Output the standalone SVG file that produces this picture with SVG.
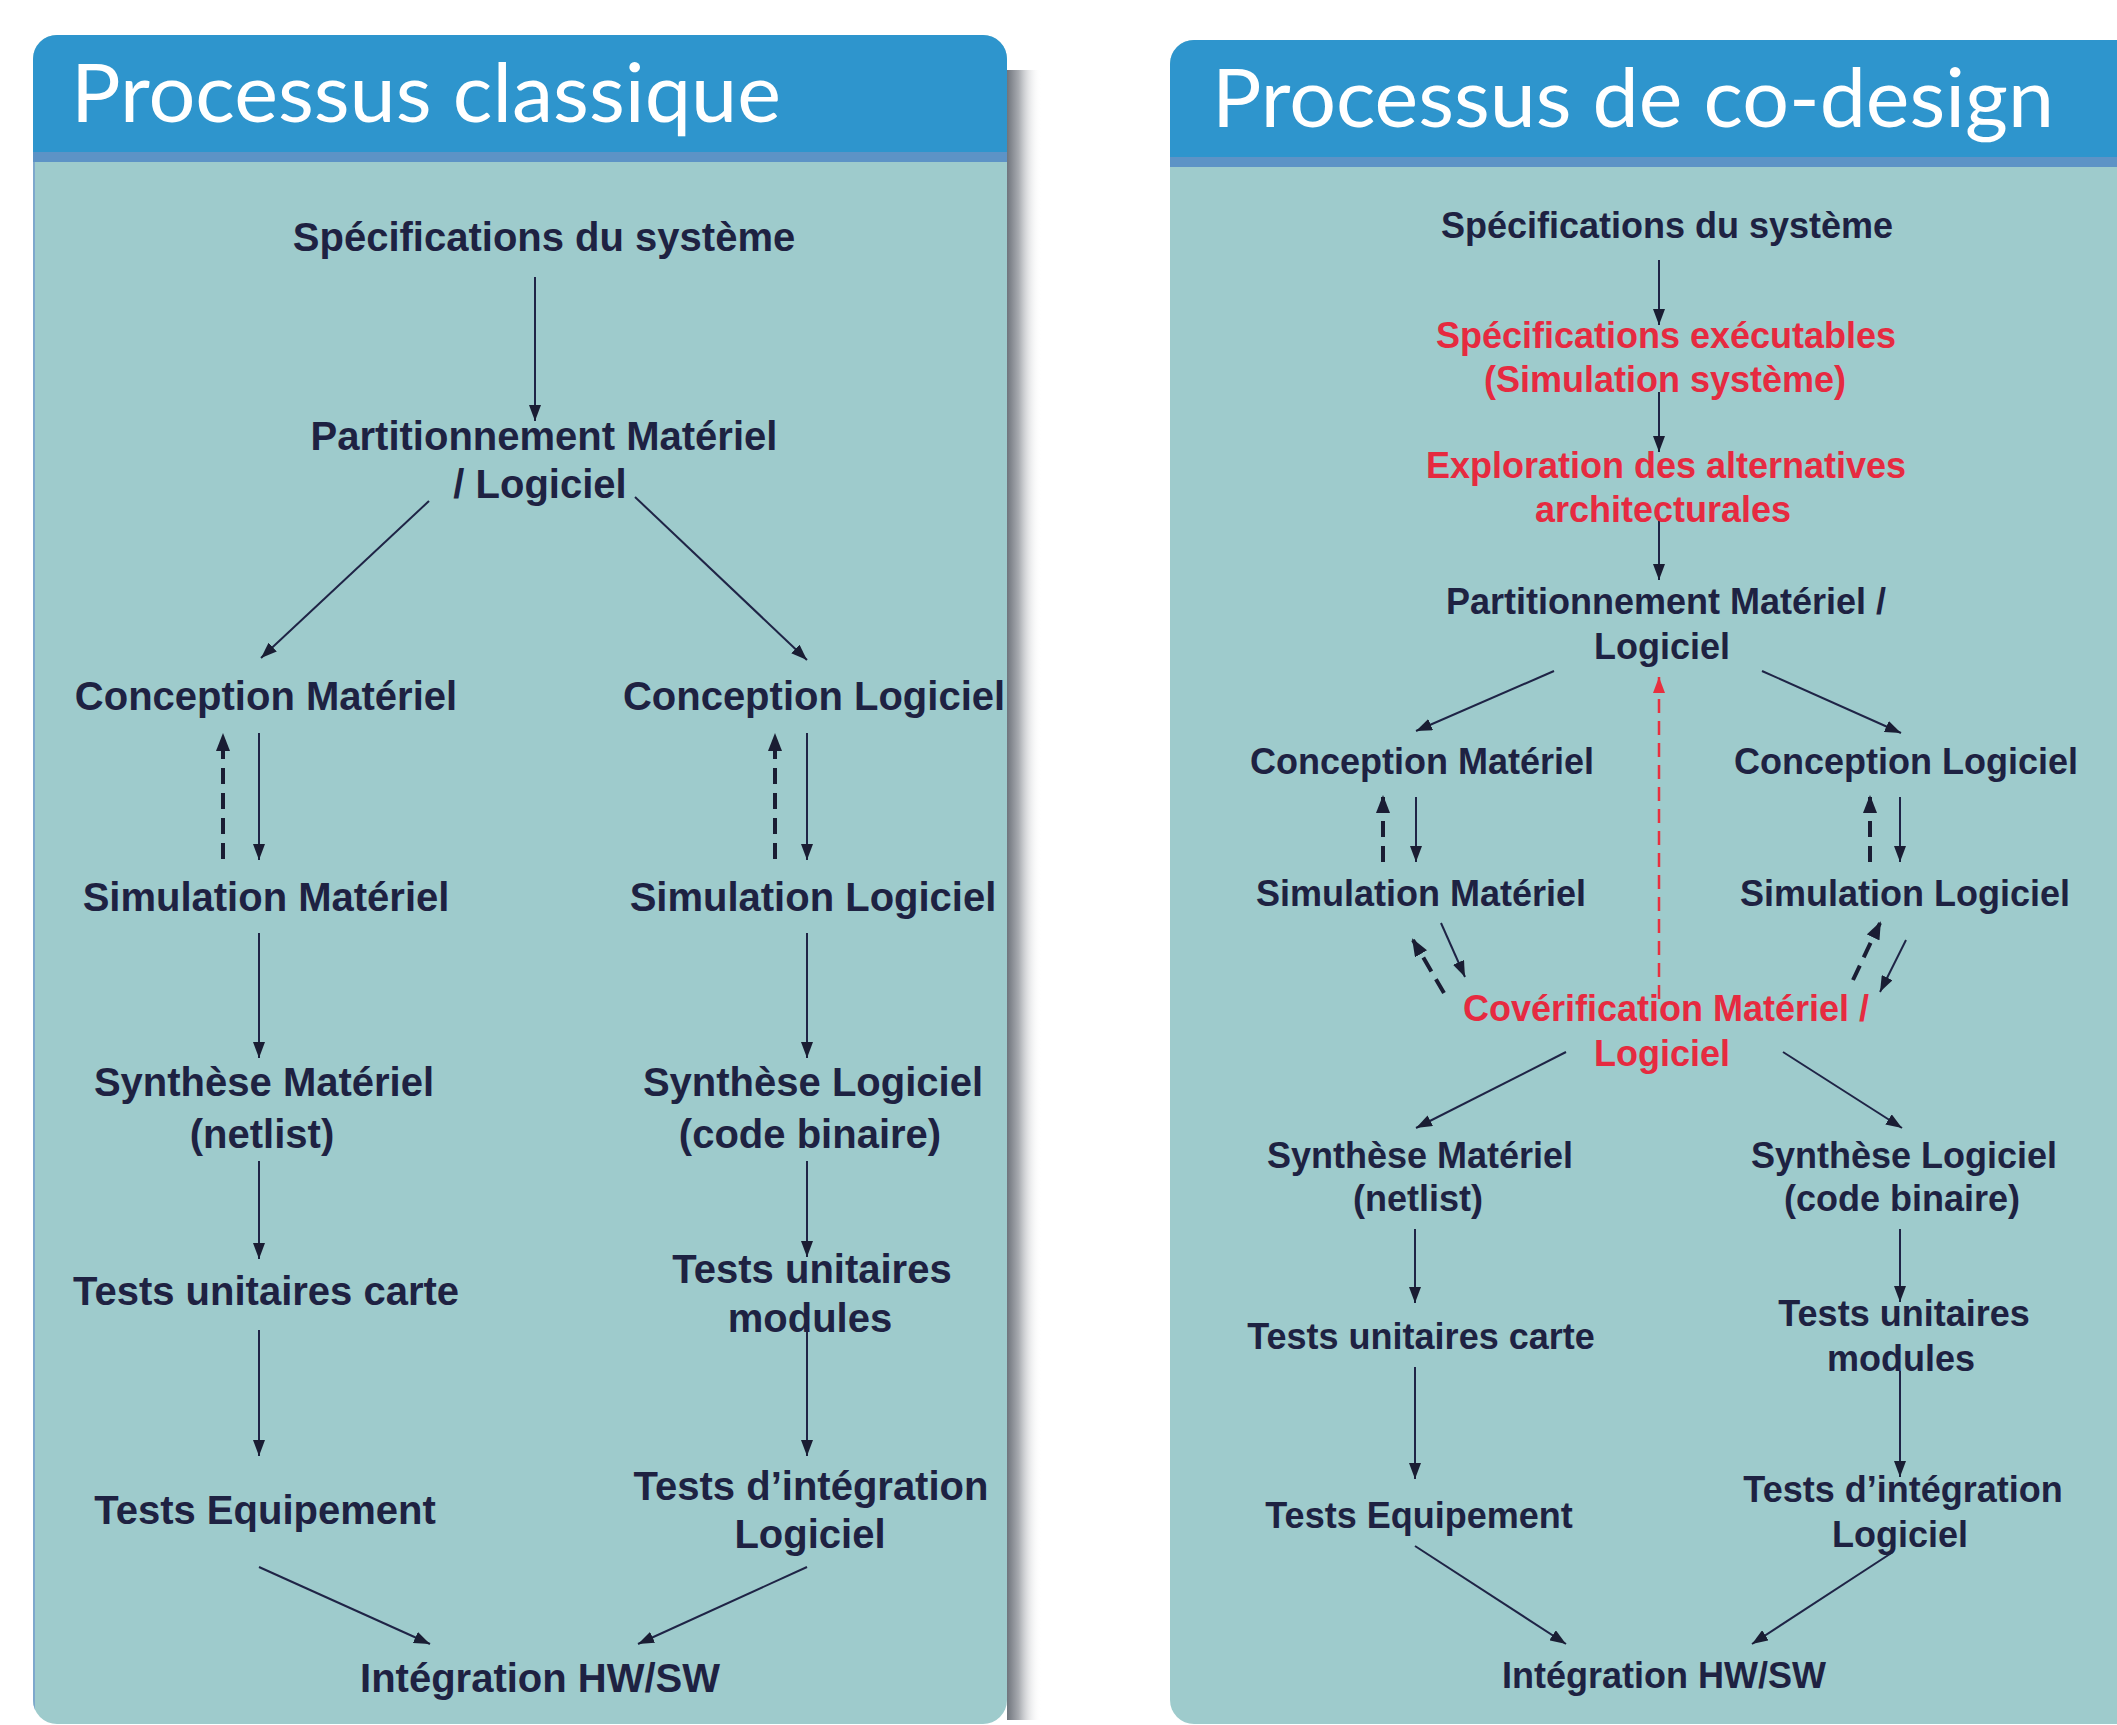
<svg xmlns="http://www.w3.org/2000/svg" width="2117" height="1725" viewBox="0 0 2117 1725">
<defs>
  <style>
    .t { font-family: "Liberation Sans", Arial, sans-serif; font-weight: bold; fill: #1e2242; text-anchor: middle; }
    .l { font-size: 40px; }
    .r { font-size: 36px; }
    .red { fill: #e62a40; }
    .title { font-family: Lato, "Liberation Sans", sans-serif; font-weight: 400; font-size: 82px; fill: #ffffff; }
    .c { stroke: #1f2446; stroke-width: 2; fill: none; marker-end: url(#ah); }
    .d { stroke: #1a1d33; stroke-width: 4; stroke-dasharray: 16 9; fill: none; marker-end: url(#ahd); }
    .rd { stroke: #e8303f; stroke-width: 2.5; stroke-dasharray: 14 8; fill: none; marker-end: url(#ahr); }
  </style>
  <marker id="ah" markerUnits="userSpaceOnUse" viewBox="0 0 16 12" refX="16" refY="6" markerWidth="16" markerHeight="12" orient="auto">
    <path d="M0,0 L16,6 L0,12 z" fill="#1a1d33"/>
  </marker>
  <marker id="ahd" markerUnits="userSpaceOnUse" viewBox="0 0 18 14" refX="16" refY="7" markerWidth="18" markerHeight="14" orient="auto">
    <path d="M0,0 L18,7 L0,14 z" fill="#1a1d33"/>
  </marker>
  <marker id="ahr" markerUnits="userSpaceOnUse" viewBox="0 0 16 12" refX="16" refY="6" markerWidth="16" markerHeight="12" orient="auto">
    <path d="M0,0 L16,6 L0,12 z" fill="#e8303f"/>
  </marker>
  <linearGradient id="sh" x1="0" y1="0" x2="1" y2="0">
    <stop offset="0" stop-color="#6f747c"/>
    <stop offset="0.35" stop-color="#a9acb1"/>
    <stop offset="1" stop-color="#ffffff" stop-opacity="0"/>
  </linearGradient>
  <clipPath id="cpL"><rect x="33" y="35" width="974" height="1689" rx="24"/></clipPath>
  <clipPath id="cpR"><rect x="1170" y="40" width="1000" height="1684" rx="24"/></clipPath>
</defs>
<rect width="2117" height="1725" fill="#ffffff"/>

<g id="panel-left">
  <rect x="1007" y="70" width="34" height="1650" fill="url(#sh)"/>
  <g clip-path="url(#cpL)">
    <rect x="33" y="35" width="974" height="1689" fill="#9ecbcc"/>
    <rect x="33" y="35" width="974" height="117" fill="#2e95cd"/>
    <rect x="33" y="152" width="974" height="10" fill="#5d93c6"/>
    <rect x="33" y="162" width="2" height="1562" fill="#7ea8cc"/>
  </g>
  <text class="title" x="71" y="122" textLength="710" lengthAdjust="spacingAndGlyphs">Processus classique</text>
</g>

<g id="panel-right">
  <g clip-path="url(#cpR)">
    <rect x="1170" y="40" width="1000" height="1684" fill="#9ecbcc"/>
    <rect x="1170" y="40" width="1000" height="117" fill="#2e95cd"/>
    <rect x="1170" y="157" width="1000" height="10" fill="#5d93c6"/>
  </g>
  <text class="title" x="1212" y="127" textLength="842" lengthAdjust="spacingAndGlyphs">Processus de co-design</text>
</g>

<g id="connectors">
  <line class="c" x1="535" y1="277" x2="535" y2="421"/>
  <line class="c" x1="429" y1="501" x2="261" y2="658"/>
  <line class="c" x1="635" y1="497" x2="807" y2="660"/>
  <line class="c" x1="259" y1="733" x2="259" y2="860"/>
  <line class="d" x1="223" y1="859" x2="223" y2="735"/>
  <line class="c" x1="807" y1="733" x2="807" y2="860"/>
  <line class="d" x1="775" y1="859" x2="775" y2="735"/>
  <line class="c" x1="259" y1="933" x2="259" y2="1058"/>
  <line class="c" x1="807" y1="933" x2="807" y2="1058"/>
  <line class="c" x1="259" y1="1161" x2="259" y2="1259"/>
  <line class="c" x1="807" y1="1161" x2="807" y2="1257"/>
  <line class="c" x1="259" y1="1330" x2="259" y2="1456"/>
  <line class="c" x1="807" y1="1313" x2="807" y2="1456"/>
  <line class="c" x1="259" y1="1567" x2="430" y2="1644"/>
  <line class="c" x1="807" y1="1567" x2="638" y2="1644"/>

  <line class="c" x1="1659" y1="260" x2="1659" y2="325"/>
  <line class="c" x1="1659" y1="392" x2="1659" y2="452"/>
  <line class="c" x1="1659" y1="521" x2="1659" y2="580"/>
  <line class="c" x1="1554" y1="671" x2="1416" y2="731"/>
  <line class="c" x1="1762" y1="671" x2="1901" y2="733"/>
  <line class="rd" x1="1659" y1="999" x2="1659" y2="677"/>
  <line class="c" x1="1416" y1="797" x2="1416" y2="862"/>
  <line class="d" x1="1383" y1="862" x2="1383" y2="797"/>
  <line class="c" x1="1900" y1="797" x2="1900" y2="862"/>
  <line class="d" x1="1870" y1="862" x2="1870" y2="797"/>
  <line class="c" x1="1441" y1="923" x2="1465" y2="977"/>
  <line class="d" x1="1444" y1="993" x2="1413" y2="940"/>
  <line class="d" x1="1853" y1="980" x2="1880" y2="923"/>
  <line class="c" x1="1906" y1="940" x2="1880" y2="992"/>
  <line class="c" x1="1566" y1="1052" x2="1416" y2="1128"/>
  <line class="c" x1="1783" y1="1052" x2="1902" y2="1128"/>
  <line class="c" x1="1415" y1="1229" x2="1415" y2="1303"/>
  <line class="c" x1="1900" y1="1229" x2="1900" y2="1302"/>
  <line class="c" x1="1415" y1="1367" x2="1415" y2="1479"/>
  <line class="c" x1="1900" y1="1371" x2="1900" y2="1477"/>
  <line class="c" x1="1415" y1="1546" x2="1566" y2="1644"/>
  <line class="c" x1="1893" y1="1552" x2="1752" y2="1644"/>
</g>

<g id="L-spec"><text class="t l" x="544" y="251">Spécifications du système</text></g>
<g id="L-part"><text class="t l" x="544" y="450">Partitionnement Matériel</text><text class="t l" x="540" y="498">/ Logiciel</text></g>
<g id="L-concmat"><text class="t l" x="266" y="710">Conception Matériel</text></g>
<g id="L-conclog"><text class="t l" x="814" y="710">Conception Logiciel</text></g>
<g id="L-simmat"><text class="t l" x="266" y="911">Simulation Matériel</text></g>
<g id="L-simlog"><text class="t l" x="813" y="911">Simulation Logiciel</text></g>
<g id="L-synmat"><text class="t l" x="264" y="1096">Synthèse Matériel</text><text class="t l" x="262" y="1148">(netlist)</text></g>
<g id="L-synlog"><text class="t l" x="813" y="1096">Synthèse Logiciel</text><text class="t l" x="810" y="1148">(code binaire)</text></g>
<g id="L-tuc"><text class="t l" x="266" y="1305">Tests unitaires carte</text></g>
<g id="L-tum"><text class="t l" x="812" y="1283">Tests unitaires</text><text class="t l" x="810" y="1332">modules</text></g>
<g id="L-teq"><text class="t l" x="265" y="1524">Tests Equipement</text></g>
<g id="L-tint"><text class="t l" x="811" y="1500">Tests d’intégration</text><text class="t l" x="810" y="1548">Logiciel</text></g>
<g id="L-integ"><text class="t l" x="540" y="1692">Intégration HW/SW</text></g>

<g id="R-spec"><text class="t r" x="1667" y="238">Spécifications du système</text></g>
<g id="R-specexe"><text class="t r red" x="1666" y="348">Spécifications exécutables</text><text class="t r red" x="1665" y="392">(Simulation système)</text></g>
<g id="R-explo"><text class="t r red" x="1666" y="478">Exploration des alternatives</text><text class="t r red" x="1663" y="522">architecturales</text></g>
<g id="R-part"><text class="t r" x="1666" y="614">Partitionnement Matériel /</text><text class="t r" x="1662" y="659">Logiciel</text></g>
<g id="R-concmat"><text class="t r" x="1422" y="774">Conception Matériel</text></g>
<g id="R-conclog"><text class="t r" x="1906" y="774">Conception Logiciel</text></g>
<g id="R-simmat"><text class="t r" x="1421" y="906">Simulation Matériel</text></g>
<g id="R-simlog"><text class="t r" x="1905" y="906">Simulation Logiciel</text></g>
<g id="R-cover"><text class="t r red" x="1666" y="1021">Covérification Matériel /</text><text class="t r red" x="1662" y="1066">Logiciel</text></g>
<g id="R-synmat"><text class="t r" x="1420" y="1168">Synthèse Matériel</text><text class="t r" x="1418" y="1211">(netlist)</text></g>
<g id="R-synlog"><text class="t r" x="1904" y="1168">Synthèse Logiciel</text><text class="t r" x="1902" y="1211">(code binaire)</text></g>
<g id="R-tuc"><text class="t r" x="1421" y="1349">Tests unitaires carte</text></g>
<g id="R-tum"><text class="t r" x="1904" y="1326">Tests unitaires</text><text class="t r" x="1901" y="1371">modules</text></g>
<g id="R-teq"><text class="t r" x="1419" y="1528">Tests Equipement</text></g>
<g id="R-tint"><text class="t r" x="1903" y="1502">Tests d’intégration</text><text class="t r" x="1900" y="1547">Logiciel</text></g>
<g id="R-integ"><text class="t r" x="1664" y="1688">Intégration HW/SW</text></g>
</svg>
